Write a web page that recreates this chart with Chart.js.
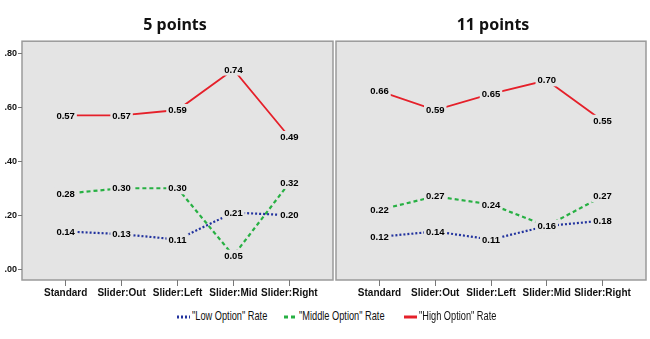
<!DOCTYPE html>
<html>
<head>
<meta charset="utf-8">
<script src="https://cdn.jsdelivr.net/npm/chart.js@4/dist/chart.umd.min.js"></script>
<style>
  body { margin: 0; background: #fff; width: 650px; height: 339px; position: relative; overflow: hidden; }
  #c1 { position: absolute; left: 0; top: 0; }
  #c2 { position: absolute; left: 330px; top: 0; }
  #legend { position: absolute; top: 307px; left: 0; width: 650px; height: 18px;
            font-family: "Liberation Sans", Arial, sans-serif; font-size: 13px; color: #111; }
  .item { position: absolute; top: 0; white-space: nowrap; line-height: 18px; }
  .item svg { vertical-align: middle; }
  .item span { display: inline-block; transform: scaleX(0.71); transform-origin: left center; }
</style>
</head>
<body>
<canvas id="c1" width="350" height="300"></canvas>
<canvas id="c2" width="320" height="300"></canvas>
<div id="legend"></div>
<script>
// categories and tick labels
const categories = ['Standard', 'Slider:Out', 'Slider:Left', 'Slider:Mid', 'Slider:Right'];
const yTicks = [0, 0.2, 0.4, 0.6, 0.8];
const seriesNames = ['"Low Option" Rate', '"Middle Option" Rate', '"High Option" Rate'];

// 5 points panel
const low5 = [0.14, 0.13, 0.11, 0.21, 0.20];
const mid5 = [0.28, 0.30, 0.30, 0.05, 0.32];
const high5 = [0.57, 0.57, 0.59, 0.74, 0.49];

// 11 points panel
const low11 = [0.12, 0.14, 0.11, 0.16, 0.18];
const mid11 = [0.22, 0.27, 0.24, 0.16, 0.27];
const high11 = [0.66, 0.59, 0.65, 0.70, 0.55];

const colors = ['#22339e', '#27b043', '#e5202a'];
const dashes = [[2, 2], [4, 3], []];
const widths = [2.2, 2.2, 1.8];
const plotBg = '#e4e4e4';

// gray plot area with border
const areaPlugin = {
  id: 'areaBg',
  beforeDraw(chart) {
    const a = chart.chartArea, ctx = chart.ctx;
    ctx.save();
    ctx.fillStyle = plotBg;
    ctx.fillRect(a.left, a.top, a.right - a.left, a.bottom - a.top);
    ctx.strokeStyle = '#9a9a9a';
    ctx.lineWidth = 1.5;
    ctx.strokeRect(a.left, a.top, a.right - a.left, a.bottom - a.top);
    ctx.restore();
  }
};

// value labels sitting on the points, with a patch of background behind
const labelPlugin = {
  id: 'valLabels',
  afterDatasetsDraw(chart) {
    const ctx = chart.ctx;
    ctx.save();
    ctx.font = 'bold 9.5px "Liberation Sans", Arial, sans-serif';
    ctx.textAlign = 'center';
    ctx.textBaseline = 'middle';
    chart.data.datasets.forEach((ds, i) => {
      chart.getDatasetMeta(i).data.forEach((pt, j) => {
        const txt = ds.data[j].y.toFixed(2);
        const w = ctx.measureText(txt).width;
        ctx.fillStyle = plotBg;
        ctx.fillRect(pt.x - w / 2 - 2, pt.y - 6, w + 4, 12);
        ctx.fillStyle = '#000';
        ctx.fillText(txt, pt.x, pt.y + 0.5);
      });
    });
    ctx.restore();
  }
};

// an empty right-hand axis used only as a spacer
function spacer(w) {
  return {
    position: 'right', display: true, min: 0, max: 1,
    grid: { display: false }, border: { display: false }, ticks: { display: false },
    afterFit: s => { s.width = w; }
  };
}

function makeChart(id, title, low, mid, high, showY, leftPad, rightGap) {
  const sets = [low, mid, high].map((vals, i) => ({
    label: seriesNames[i],
    data: vals.map((v, j) => ({ x: j, y: v })),
    borderColor: colors[i],
    borderDash: dashes[i],
    borderWidth: widths[i],
    pointRadius: 0,
    fill: false,
    tension: 0
  }));
  return new Chart(document.getElementById(id), {
    type: 'line',
    data: { datasets: sets },
    options: {
      responsive: false,
      animation: false,
      layout: { padding: { left: leftPad, right: 0, top: 0, bottom: 0 } },
      plugins: {
        legend: { display: false },
        tooltip: { enabled: false },
        title: {
          display: true, text: title, color: '#111',
          font: { family: '"Noto Sans", "Open Sans", sans-serif', size: 16, weight: 'bold', lineHeight: 1.2 },
          padding: { top: 16, bottom: 6 }
        }
      },
      scales: {
        x: {
          type: 'linear', min: -0.78, max: 4.78,
          afterBuildTicks: s => { s.ticks = categories.map((c, k) => ({ value: k })); },
          afterFit: s => { s.height = 20; s.paddingLeft = 0; s.paddingRight = 0; },
          grid: { drawOnChartArea: false, tickLength: 6, color: '#777', tickColor: '#777' },
          border: { display: false },
          ticks: {
            callback: v => categories[v], autoSkip: false, maxRotation: 0, padding: 1, color: '#111',
            font: { family: '"Liberation Sans", Arial, sans-serif', size: 10, weight: 'bold' }
          }
        },
        y: {
          display: showY, min: -0.04, max: 0.845,
          afterBuildTicks: s => { s.ticks = yTicks.map(v => ({ value: v })); },
          afterFit: s => { s.width = showY ? 22 : 0; },
          grid: { drawOnChartArea: false, tickLength: 4, color: '#777', tickColor: '#777' },
          border: { display: false },
          ticks: {
            callback: v => v.toFixed(2).replace(/^0/, ''), padding: 1, color: '#111',
            font: { family: '"Liberation Sans", Arial, sans-serif', size: 9, weight: 'bold' }
          }
        },
        gap: spacer(rightGap)
      }
    },
    plugins: [areaPlugin, labelPlugin]
  });
}

makeChart('c1', '5 points', low5, mid5, high5, true, 0, 17);
makeChart('c2', '11 points', low11, mid11, high11, false, 6, 4);

// legend below both panels
const legendX = [177, 284, 404];
const leg = document.getElementById('legend');
seriesNames.forEach((name, i) => {
  const d = document.createElement('div');
  d.className = 'item';
  d.style.left = legendX[i] + 'px';
  const dash = dashes[i].length ? 'stroke-dasharray="' + dashes[i].join(',') + '"' : '';
  d.innerHTML = '<svg width="15" height="6"><line x1="0" y1="3" x2="13" y2="3" stroke="' + colors[i] +
    '" stroke-width="3" ' + dash + '/></svg>';
  const s = document.createElement('span');
  s.textContent = name;
  d.appendChild(s);
  leg.appendChild(d);
});
</script>
</body>
</html>
